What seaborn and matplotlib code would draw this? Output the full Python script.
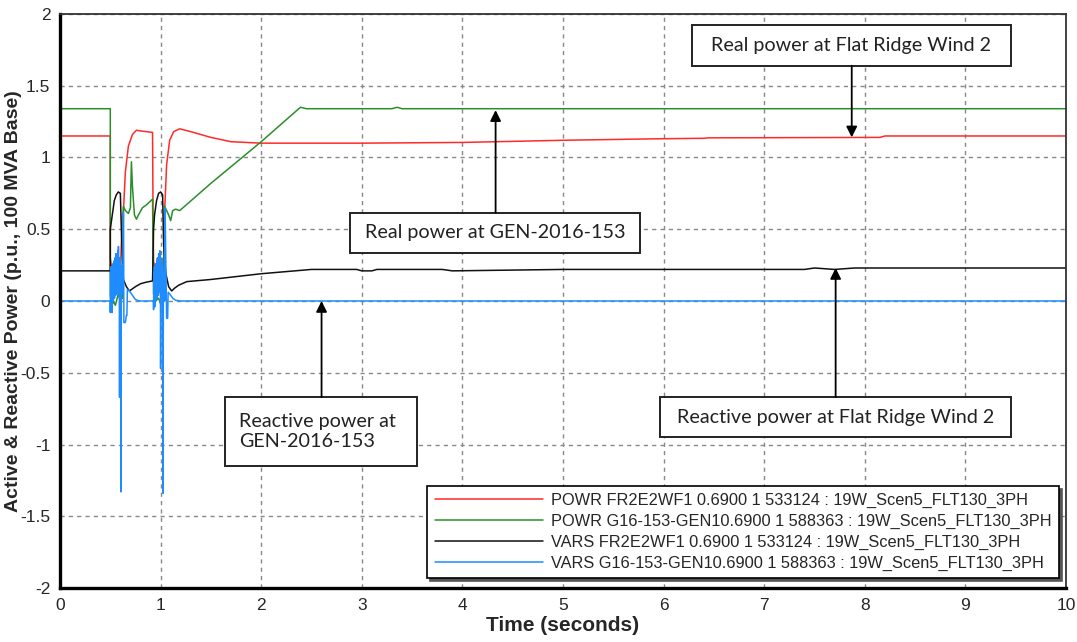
import numpy as np
import pandas as pd
import seaborn as sns
import matplotlib.pyplot as plt
from matplotlib.patches import Rectangle
from matplotlib.ticker import MultipleLocator, FormatStrFormatter

# series breakpoints (time in s, value in p.u.)
red_t = [0, 0.5, 0.5, 0.52, 0.54, 0.56, 0.58, 0.6, 0.62, 0.63, 0.65, 0.68, 0.72, 0.76, 0.8, 0.86, 0.92,
         0.925, 0.93, 0.95, 0.97, 1.0, 1.03, 1.04, 1.06, 1.09, 1.13, 1.19, 1.3, 1.5, 1.7, 2.0, 3.0, 4.0,
         5.0, 5.9, 6.4, 6.45, 8.15, 8.2, 10]
red_v = [1.15, 1.15, 0.3, 0.2, 0.25, 0.22, 0.3, 0.2, 0.6, 0.62, 0.9, 1.08, 1.16, 1.19, 1.185, 1.18, 1.175,
         0.6, 0.28, 0.2, 0.3, 0.25, 0.2, 0.62, 0.95, 1.12, 1.18, 1.2, 1.18, 1.14, 1.11, 1.1, 1.1, 1.105,
         1.12, 1.13, 1.134, 1.137, 1.14, 1.15, 1.15]

green_t = [0, 0.5, 0.5, 0.51, 0.53, 0.55, 0.58, 0.6, 0.62, 0.63, 0.65, 0.68, 0.7, 0.71, 0.72, 0.74, 0.76,
           0.78, 0.82, 0.86, 0.92, 0.93, 0.95, 0.98, 1.0, 1.03, 1.04, 1.06, 1.08, 1.1, 1.12, 1.15, 1.19,
           1.5, 2.0, 2.39, 2.45, 3.3, 3.35, 3.4, 10]
green_v = [1.34, 1.34, 0.05, -0.05, 0.0, -0.03, 0.05, 0.0, 0.02, 0.66, 0.63, 0.61, 0.65, 0.97, 0.8, 0.6,
           0.57, 0.6, 0.65, 0.67, 0.71, 0.05, 0.0, 0.02, -0.02, 0.0, 0.66, 0.63, 0.6, 0.56, 0.63, 0.64,
           0.63, 0.82, 1.11, 1.35, 1.34, 1.34, 1.35, 1.34, 1.34]

black_t = [0, 0.5, 0.5, 0.52, 0.54, 0.56, 0.58, 0.6, 0.61, 0.62, 0.63, 0.66, 0.69, 0.75, 0.8, 0.85, 0.92,
           0.93, 0.94, 0.96, 0.98, 1.0, 1.02, 1.03, 1.05, 1.08, 1.11, 1.14, 1.18, 1.26, 1.5, 2.0, 2.5,
           2.95, 3.0, 3.1, 3.15, 3.8, 3.9, 5.0, 7.4, 7.5, 7.7, 7.9, 10]
black_v = [0.21, 0.21, 0.5, 0.6, 0.7, 0.74, 0.76, 0.75, 0.5, 0.3, 0.15, 0.1, 0.07, 0.1, 0.12, 0.13, 0.14,
           0.5, 0.6, 0.7, 0.75, 0.76, 0.74, 0.4, 0.2, 0.1, 0.07, 0.09, 0.11, 0.135, 0.15, 0.19, 0.22,
           0.22, 0.21, 0.21, 0.22, 0.22, 0.21, 0.22, 0.22, 0.23, 0.22, 0.23, 0.23]

blue_t = [0, 0.5, 0.5, 0.503, 0.506, 0.509, 0.512, 0.515, 0.518, 0.521, 0.524, 0.527, 0.53, 0.533,
          0.536, 0.539, 0.542, 0.545, 0.548, 0.551, 0.554, 0.557, 0.56, 0.563, 0.566, 0.569, 0.572,
          0.575, 0.578, 0.581, 0.584, 0.587, 0.59, 0.592, 0.595, 0.598, 0.6, 0.603, 0.606, 0.61, 0.614,
          0.618, 0.622, 0.626, 0.63, 0.632, 0.635, 0.65, 0.66, 0.665, 0.67, 0.69, 0.72, 0.75, 0.79,
          0.93, 0.93, 0.933, 0.936, 0.939, 0.942, 0.945, 0.948, 0.951, 0.954, 0.957, 0.96, 0.963, 0.966,
          0.969, 0.972, 0.975, 0.978, 0.981, 0.984, 0.987, 0.99, 0.993, 0.996, 0.998, 1.0, 1.004,
          1.008, 1.012, 1.016, 1.02, 1.024, 1.028, 1.032, 1.036, 1.04, 1.042, 1.045, 1.06, 1.07,
          1.075, 1.09, 1.12, 1.15, 1.2, 10]
blue_v = [0, 0, -0.08, 0.2, 0.0, 0.24, -0.02, 0.22, -0.08, 0.18, 0.02, 0.26, 0.0, 0.22, 0.03, 0.28,
          0.02, 0.3, 0.05, 0.25, 0.04, 0.33, 0.05, 0.27, 0.06, 0.3, 0.05, 0.35, 0.08, 0.38, 0.1, 0.3,
          0.12, -0.67, 0.25, 0.1, 0.3, 0.2, -1.33, 0.22, 0.1, 0.25, 0.05, 0.2, 0.62, 0.6, -0.15,
          -0.15, -0.1, -0.1, 0.08, 0.07, 0.04, 0.01, 0.0,
          0, -0.06, 0.2, 0.0, 0.24, -0.04, 0.22, 0.0, 0.26, 0.02, 0.22, 0.03, 0.28, 0.02, 0.3, 0.05,
          0.25, 0.04, 0.33, 0.06, 0.3, 0.08, 0.35, 0.1, 0.3, -0.47, 0.25, 0.2, 0.3, 0.15, 0.25,
          -1.34, 0.2, 0.1, 0.15, 0.0, 0.65, 0.62, -0.12, -0.12, 0.06, 0.05, 0.02, 0.005, 0.0, 0.0]

labels = ['POWR FR2E2WF1 0.6900 1 533124 : 19W_Scen5_FLT130_3PH',
          'POWR G16-153-GEN10.6900 1 588363 : 19W_Scen5_FLT130_3PH',
          'VARS FR2E2WF1 0.6900 1 533124 : 19W_Scen5_FLT130_3PH',
          'VARS G16-153-GEN10.6900 1 588363 : 19W_Scen5_FLT130_3PH']
colors = ['#ff2a2a', '#2a8f2a', '#111111', '#1e8cff']

# annotation boxes: text, box (t0, t1, v0, v1), arrow target (t, v)
notes = [('Real power at Flat Ridge Wind 2', (6.28, 9.45, 1.64, 1.92), (7.87, 1.14)),
         ('Real power at GEN-2016-153', (2.88, 5.77, 0.335, 0.615), (4.33, 1.33)),
         ('Reactive power at\nGEN-2016-153', (1.64, 3.55, -1.15, -0.67), (2.6, 0.0)),
         ('Reactive power at Flat Ridge Wind 2', (5.96, 9.45, -0.95, -0.67), (7.71, 0.23))]

sns.set_style('white')
plt.rcParams['font.family'] = ['Liberation Sans Narrow', 'Liberation Sans', 'DejaVu Sans']

fig = plt.figure(figsize=(10.77, 6.42), dpi=100)
ax = fig.add_axes([0.0557, 0.0841, 0.9341, 0.8941])

series = [(red_t, red_v), (green_t, green_v), (black_t, black_v), (blue_t, blue_v)]
for (t, v), lab, c in zip(series, labels, colors):
    df = pd.DataFrame({'t': t, 'v': v})
    sns.lineplot(data=df, x='t', y='v', ax=ax, color=c, lw=1.1, label=lab,
                 estimator=None, sort=False)

ax.set_xlim(0, 10)
ax.set_ylim(-2, 2)
ax.xaxis.set_major_locator(MultipleLocator(1))
ax.xaxis.set_minor_locator(MultipleLocator(0.2))
ax.yaxis.set_major_locator(MultipleLocator(0.5))
ax.yaxis.set_minor_locator(MultipleLocator(0.1))
ax.yaxis.set_major_formatter(FormatStrFormatter('%g'))
ax.tick_params(which='both', direction='out', color='#333333', labelsize=12.5, pad=3)
ax.tick_params(which='major', length=4, width=1)
ax.tick_params(which='minor', length=3, width=0.8)
ax.grid(True, which='major', color='#888888', ls=(0, (3, 3)), lw=1)

for side in ['left', 'bottom']:
    ax.spines[side].set_linewidth(2.4)
    ax.spines[side].set_color('black')
for side in ['top', 'right']:
    ax.spines[side].set_linewidth(1.3)
    ax.spines[side].set_color('#333333')

ax.set_xlabel('Time (seconds)', fontsize=15, fontweight='bold', labelpad=2)
ax.set_ylabel('Active & Reactive Power (p.u., 100 MVA Base)', fontsize=14, fontweight='bold',
              family=['Liberation Sans', 'DejaVu Sans'])
ax.yaxis.set_label_coords(-0.0375, 0.5)

leg = ax.legend(loc='lower right', bbox_to_anchor=(0.993, 0.017), borderaxespad=0, fancybox=False,
                shadow={'color': '#555555', 'alpha': 1}, framealpha=1, edgecolor='black',
                fontsize=11.8, handlelength=6.6, handletextpad=0.5, labelspacing=0.35,
                borderpad=0.45)
leg.get_frame().set_linewidth(1.2)

for text, (t0, t1, v0, v1), (tx, ty) in notes:
    ax.add_patch(Rectangle((t0, v0), t1 - t0, v1 - v0, fill=True, facecolor='white',
                           edgecolor='#222222', lw=1.4, zorder=5))
    if '\n' in text:
        ax.text(t0 + 0.14, (v0 + v1) / 2, text, ha='left', va='center', fontsize=14.2,
                family=['Lato', 'DejaVu Sans'], color='#222222', zorder=6, linespacing=1.2)
    else:
        ax.text((t0 + t1) / 2, (v0 + v1) / 2, text, ha='center', va='center', fontsize=14.2,
                family=['Lato', 'DejaVu Sans'], color='#222222', zorder=6)
    ax.annotate('', xy=(tx, ty), xytext=(tx, v1 if ty > v1 else v0),
                arrowprops=dict(arrowstyle='-|>', color='black', lw=1.3, mutation_scale=16,
                                shrinkA=0, shrinkB=0), zorder=6)

fig.savefig('out.png', dpi=100)
